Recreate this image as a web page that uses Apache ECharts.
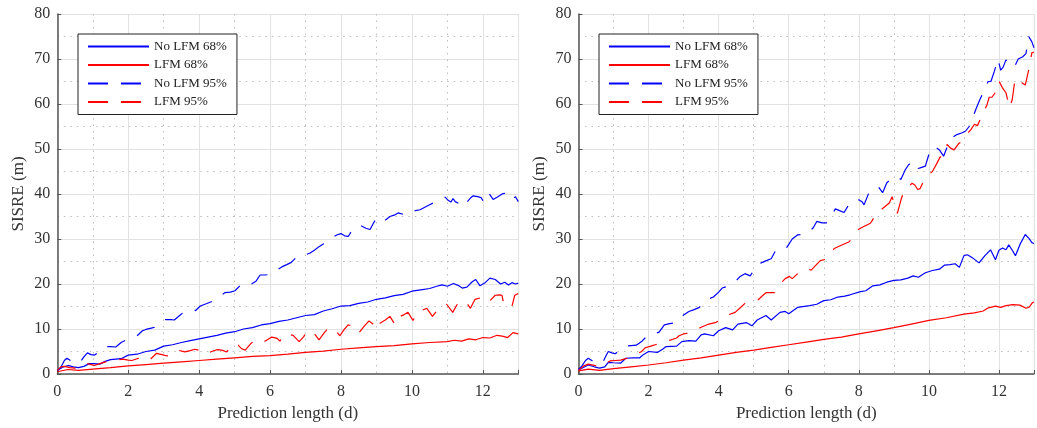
<!DOCTYPE html>
<html>
<head>
<meta charset="utf-8">
<script src="https://cdn.jsdelivr.net/npm/echarts@6/dist/echarts.min.js"></script>
<style>html,body{margin:0;padding:0;background:#fff;}#c{width:1037px;height:428px;}</style>
</head>
<body>
<div id="c"></div>
<script>
// ---- data: [prediction length (d), SISRE (m)] ----
const seriesNames = ['No LFM 68%', 'LFM 68%', 'No LFM 95%', 'LFM 95%'];
const xTicks = [0, 2, 4, 6, 8, 10, 12];
const yTicks = [0, 10, 20, 30, 40, 50, 60, 70, 80];

// Left panel
const leftNoLfm68 = [[0,0.8],[0.15,1.5],[0.3,1.9],[0.45,1.6],[0.6,1.4],[0.75,1.7],[0.9,2.3],[1.05,2.3],[1.2,2.2],[1.35,2.8],[1.5,3.2],[1.65,3.3],[1.8,3.4],[2.0,4.2],[2.25,4.4],[2.5,5.0],[2.75,5.3],[3.0,6.2],[3.25,6.5],[3.5,7.0],[3.75,7.4],[4.0,7.8],[4.25,8.2],[4.5,8.6],[4.75,9.1],[5.0,9.4],[5.25,10.0],[5.5,10.3],[5.75,10.9],[6.0,11.2],[6.25,11.7],[6.5,12.0],[6.75,12.5],[7.0,13.0],[7.25,13.2],[7.5,14.0],[7.75,14.5],[8.0,15.1],[8.25,15.2],[8.5,15.7],[8.75,16.0],[9.0,16.6],[9.25,16.9],[9.5,17.4],[9.75,17.7],[10.0,18.4],[10.25,18.7],[10.5,19.0],[10.7,19.5],[10.85,19.8],[11.0,19.5],[11.17,20.1],[11.3,19.7],[11.42,19.1],[11.55,19.3],[11.7,20.5],[11.8,21.0],[11.92,19.6],[12.05,20.2],[12.2,21.3],[12.35,21.0],[12.5,20.0],[12.62,20.4],[12.72,19.8],[12.82,20.3],[12.92,20.0],[13,20.2]];
const leftLfm68 = [[0,0.5],[0.3,1.0],[0.6,0.8],[1.0,1.1],[1.5,1.4],[2.0,1.8],[2.5,2.1],[3.0,2.4],[3.5,2.7],[4.0,3.0],[4.5,3.3],[5.0,3.6],[5.5,3.9],[6.0,4.1],[6.5,4.4],[7.0,4.8],[7.5,5.1],[8.0,5.5],[8.5,5.8],[9.0,6.1],[9.5,6.3],[10.0,6.7],[10.5,7.0],[11.0,7.2],[11.2,7.5],[11.4,7.3],[11.6,7.8],[11.8,7.6],[12.0,8.1],[12.2,8.0],[12.4,8.6],[12.55,8.4],[12.7,8.1],[12.85,9.2],[13,8.9]];
const leftNoLfm95 = [[0,0.8],[0.1,1.5],[0.2,3.0],[0.27,3.5],[0.35,3.1],[0.45,2.5],[0.55,2.3],[0.65,2.7],[0.75,3.8],[0.85,4.7],[0.95,4.3],[1.05,4.2],[1.15,4.8],[1.25,5.6],[1.35,6.1],[1.5,6.1],[1.65,6.0],[1.8,7.0],[1.95,7.6],[2.1,8.2],[2.25,8.5],[2.4,9.6],[2.5,9.9],[2.65,10.2],[2.8,10.5],[2.9,11.2],[3.05,12.1],[3.2,12.1],[3.3,12.0],[3.45,13.0],[3.6,14.0],[3.75,14.2],[3.9,14.1],[4.03,15.1],[4.2,15.6],[4.36,16.1],[4.5,16.6],[4.6,17.3],[4.73,18.1],[4.88,18.2],[5.01,18.5],[5.15,19.6],[5.3,20.3],[5.45,19.9],[5.6,20.6],[5.72,22.0],[5.85,22.0],[6.0,22.1],[6.1,22.4],[6.19,23.1],[6.33,23.8],[6.47,24.3],[6.6,24.8],[6.75,26.0],[6.85,26.5],[7.0,26.5],[7.13,26.9],[7.25,27.5],[7.38,28.3],[7.5,28.9],[7.62,29.6],[7.74,30.2],[7.88,30.9],[8.0,31.2],[8.1,30.7],[8.21,30.6],[8.3,31.8],[8.4,32.7],[8.55,33.0],[8.7,32.4],[8.82,32.1],[8.92,33.6],[9.01,34.7],[9.1,34.4],[9.2,33.9],[9.38,35.0],[9.5,35.3],[9.61,35.8],[9.75,35.5],[9.85,35.7],[9.95,36.4],[10.1,36.3],[10.23,36.5],[10.35,37.0],[10.5,37.6],[10.65,38.2],[10.8,38.6],[10.94,39.3],[11.02,38.6],[11.1,38.2],[11.16,39.0],[11.22,38.3],[11.32,37.9],[11.44,37.1],[11.55,38.2],[11.65,39.1],[11.73,39.6],[11.85,39.4],[11.95,39.2],[12.01,38.4],[12.15,40.4],[12.29,38.8],[12.4,39.3],[12.57,40.1],[12.7,40.2],[12.83,38.8],[12.92,39.4],[13,38.3]];
const leftLfm95 = [[0,0.8],[0.1,1.6],[0.2,1.7],[0.35,1.4],[0.5,1.3],[0.65,1.6],[0.8,2.4],[0.95,2.1],[1.05,1.9],[1.2,2.3],[1.4,2.8],[1.55,3.0],[1.67,3.1],[1.85,3.3],[2.0,3.1],[2.1,3.0],[2.25,3.4],[2.43,3.7],[2.6,3.1],[2.8,4.6],[2.95,4.3],[3.1,4.0],[3.25,5.0],[3.4,5.3],[3.6,4.9],[3.75,5.2],[3.88,5.5],[4.05,5.2],[4.2,4.4],[4.35,5.0],[4.5,5.4],[4.64,5.3],[4.78,4.9],[4.92,6.6],[5.1,6.4],[5.2,5.6],[5.3,5.3],[5.45,6.7],[5.55,7.4],[5.67,7.4],[5.8,7.0],[5.9,7.5],[6.05,8.2],[6.2,7.9],[6.28,7.3],[6.35,8.5],[6.45,8.9],[6.65,8.6],[6.82,7.2],[6.95,8.3],[7.03,9.4],[7.2,9.5],[7.38,7.6],[7.52,9.1],[7.64,10.2],[7.8,10.1],[7.97,8.5],[8.08,9.8],[8.2,10.9],[8.35,10.6],[8.5,9.1],[8.65,10.6],[8.79,11.8],[8.9,11.1],[9.0,9.9],[9.1,11.3],[9.25,12.0],[9.38,12.8],[9.53,10.9],[9.67,12.8],[9.78,13.2],[9.89,13.7],[10.03,11.9],[10.17,13.9],[10.3,14.2],[10.42,14.6],[10.58,12.8],[10.75,14.6],[10.87,15.0],[10.98,15.5],[11.15,13.7],[11.27,15.4],[11.4,15.8],[11.5,16.3],[11.65,14.6],[11.78,16.6],[11.92,16.9],[12.06,17.4],[12.2,16.3],[12.35,17.5],[12.47,17.6],[12.54,17.5],[12.6,15.2],[12.72,15.1],[12.82,15.0],[12.9,17.5],[13,17.9]];

// Right panel
const rightNoLfm68 = [[0,0.9],[0.15,1.5],[0.28,2.0],[0.45,1.6],[0.6,1.3],[0.75,1.6],[0.85,2.6],[1.0,2.5],[1.2,2.4],[1.35,3.5],[1.55,3.6],[1.75,3.6],[1.85,4.3],[2.0,5.0],[2.25,4.8],[2.4,5.5],[2.5,6.1],[2.8,6.2],[2.95,7.2],[3.15,7.4],[3.35,7.3],[3.5,8.7],[3.6,8.9],[3.85,8.5],[4.0,9.6],[4.2,10.3],[4.4,9.8],[4.55,11.1],[4.8,11.4],[4.95,10.7],[5.1,12.0],[5.35,13.0],[5.5,12.0],[5.75,13.7],[5.9,13.9],[6.0,13.4],[6.25,14.8],[6.6,15.2],[6.8,15.5],[7.0,16.3],[7.2,16.5],[7.4,17.1],[7.6,17.3],[7.75,17.6],[8.05,18.3],[8.2,18.5],[8.4,19.6],[8.6,19.8],[8.8,20.4],[9.0,20.8],[9.2,20.9],[9.4,21.3],[9.55,21.8],[9.7,21.5],[9.9,22.5],[10.1,23.0],[10.3,23.3],[10.45,24.2],[10.6,24.3],[10.75,24.5],[10.87,23.7],[11.0,26.3],[11.1,26.5],[11.25,25.8],[11.43,24.7],[11.6,26.3],[11.76,27.6],[11.9,25.4],[12.0,27.5],[12.1,28.0],[12.2,27.6],[12.28,28.7],[12.38,27.5],[12.47,26.3],[12.6,28.8],[12.75,31.0],[12.85,30.2],[12.94,29.2],[13,29.0]];
const rightLfm68 = [[0,0.7],[0.28,1.1],[0.6,0.8],[1.0,1.2],[1.5,1.6],[2.0,2.0],[2.5,2.5],[3.0,3.1],[3.5,3.6],[4.0,4.2],[4.5,4.8],[5.0,5.3],[5.5,5.9],[6.0,6.5],[6.5,7.1],[7.0,7.7],[7.5,8.2],[8.0,8.9],[8.5,9.6],[9.0,10.3],[9.5,11.1],[10.0,11.9],[10.5,12.5],[11.0,13.3],[11.3,13.6],[11.55,14.0],[11.7,14.7],[11.9,15.1],[12.05,14.8],[12.2,15.2],[12.4,15.4],[12.6,15.3],[12.77,14.6],[12.87,14.9],[12.96,15.9],[13,16.0]];
const rightNoLfm95 = [[0,1.0],[0.1,1.8],[0.2,3.0],[0.28,3.5],[0.38,3.0],[0.5,2.4],[0.6,2.3],[0.7,2.7],[0.78,4.0],[0.85,5.0],[0.95,4.7],[1.05,4.5],[1.15,5.2],[1.25,5.8],[1.35,6.2],[1.5,6.3],[1.65,6.4],[1.8,7.2],[1.9,8.0],[2.0,8.7],[2.15,8.9],[2.3,9.3],[2.45,10.9],[2.6,11.2],[2.8,11.4],[2.9,12.3],[3.0,13.1],[3.15,13.9],[3.3,14.3],[3.45,14.8],[3.6,16.2],[3.75,16.8],[3.85,17.1],[4.0,18.2],[4.1,19.1],[4.3,19.6],[4.5,20.7],[4.6,21.6],[4.75,22.3],[4.9,21.8],[5.0,23.0],[5.1,24.3],[5.25,24.8],[5.36,25.2],[5.5,25.6],[5.65,27.8],[5.8,27.8],[5.95,28.2],[6.1,30.0],[6.25,30.9],[6.4,31.0],[6.55,31.3],[6.7,32.5],[6.8,33.9],[6.95,33.6],[7.08,33.6],[7.2,34.8],[7.33,36.7],[7.45,36.3],[7.58,35.9],[7.68,37.2],[7.78,38.4],[7.9,38.6],[8.0,38.7],[8.1,38.2],[8.15,37.6],[8.3,40.5],[8.45,41.2],[8.56,41.6],[8.68,40.3],[8.8,42.5],[8.95,43.5],[9.1,43.9],[9.2,43.2],[9.32,45.3],[9.42,46.5],[9.54,47.2],[9.65,45.6],[9.75,45.8],[9.9,46.2],[10.0,48.8],[10.15,50.6],[10.3,49.8],[10.42,48.4],[10.55,51.0],[10.65,52.5],[10.8,53.2],[10.95,53.6],[11.05,54.0],[11.15,55.0],[11.26,57.2],[11.35,59.0],[11.45,60.9],[11.56,62.7],[11.64,64.2],[11.69,65.0],[11.77,65.0],[11.87,67.3],[11.97,70.0],[12.05,67.5],[12.12,68.2],[12.2,69.8],[12.3,68.6],[12.44,68.2],[12.55,70.0],[12.68,70.5],[12.77,71.2],[12.85,75.0],[12.94,73.8],[13,72.5]];
const rightLfm95 = [[0,0.8],[0.15,1.8],[0.28,2.2],[0.45,1.9],[0.6,1.6],[0.75,2.2],[0.9,2.9],[1.05,3.0],[1.2,3.1],[1.35,3.4],[1.5,3.9],[1.6,4.2],[1.8,5.0],[1.9,5.8],[2.02,6.1],[2.15,6.4],[2.3,6.8],[2.45,7.2],[2.65,7.6],[2.8,8.0],[2.87,8.5],[3.0,8.9],[3.15,9.1],[3.25,9.4],[3.5,10.4],[3.72,11.1],[3.9,11.4],[4.05,12.0],[4.25,13.1],[4.47,13.7],[4.6,14.6],[4.75,15.7],[4.95,16.1],[5.13,16.5],[5.25,17.4],[5.36,18.1],[5.6,18.1],[5.79,20.3],[5.9,21.2],[6.02,21.7],[6.1,21.2],[6.27,22.4],[6.4,23.2],[6.55,23.3],[6.64,23.1],[6.9,25.2],[7.07,25.5],[7.2,26.8],[7.3,27.9],[7.5,28.6],[7.73,29.4],[7.85,30.8],[7.96,32.0],[8.1,32.6],[8.33,33.5],[8.4,34.3],[8.47,35.8],[8.65,36.6],[8.87,38.0],[8.95,39.4],[9.1,35.7],[9.2,38.6],[9.28,40.5],[9.4,41.5],[9.52,42.4],[9.6,42.0],[9.68,41.0],[9.75,41.2],[9.9,43.7],[10.1,45.0],[10.22,46.7],[10.32,48.2],[10.42,48.5],[10.52,51.0],[10.62,50.2],[10.72,49.8],[10.85,51.2],[10.96,51.7],[11.05,53.0],[11.2,54.3],[11.3,55.5],[11.39,55.2],[11.46,56.5],[11.55,58.2],[11.65,59.6],[11.72,61.5],[11.8,61.5],[11.92,62.8],[12.0,65.1],[12.1,63.6],[12.2,62.5],[12.3,59.2],[12.38,61.0],[12.45,65.1],[12.55,64.0],[12.65,64.7],[12.75,64.2],[12.85,67.6],[12.94,71.4],[13,71.5]];

// ---- styles ----
const BLUE = '#0000ff', RED = '#ff0000';
const DASH = [20, 13];
const serif = 'Liberation Serif';
const axisColor = '#555';

function makeAxes(idx) {
  const x = {
    type: 'value', gridIndex: idx, min: 0, max: 13, interval: 2,
    name: 'Prediction length (d)', nameLocation: 'middle', nameGap: 29,
    nameTextStyle: { fontFamily: serif, fontSize: 17, color: '#333' },
    axisLine: { show: true, lineStyle: { color: axisColor, width: 1.5 } },
    axisTick: { show: true, inside: true, length: 4, lineStyle: { color: axisColor, width: 1 } },
    axisLabel: { fontFamily: serif, fontSize: 16, color: '#333', margin: 10,
      formatter: v => (xTicks.indexOf(v) >= 0 ? String(v) : '') },
    splitLine: { show: true, lineStyle: { color: '#e2e2e2', width: 1 } },
    minorTick: { show: false, splitNumber: 2 },
    minorSplitLine: { show: true, lineStyle: { color: '#bdbdbd', width: 1, type: [1.5, 5] } }
  };
  const y = {
    type: 'value', gridIndex: idx, min: 0, max: 80, interval: 10,
    name: 'SISRE (m)', nameLocation: 'middle', nameGap: 30, nameRotate: 90,
    nameTextStyle: { fontFamily: serif, fontSize: 17, color: '#333' },
    axisLine: { show: true, onZero: false, lineStyle: { color: axisColor, width: 1.5 } },
    axisTick: { show: true, inside: true, length: 4, lineStyle: { color: axisColor, width: 1 } },
    axisLabel: { fontFamily: serif, fontSize: 16, color: '#333', margin: 7,
      formatter: v => (yTicks.indexOf(v) >= 0 ? String(v) : '') },
    splitLine: { show: true, lineStyle: { color: '#e2e2e2', width: 1 } },
    minorTick: { show: false, splitNumber: 2 },
    minorSplitLine: { show: true, lineStyle: { color: '#bdbdbd', width: 1, type: [1.5, 5] } }
  };
  return { x, y };
}

function mkSeries(name, data, color, dashed, idx) {
  return {
    name, type: 'line', data, xAxisIndex: idx, yAxisIndex: idx,
    showSymbol: false, symbol: 'none', smooth: false, clip: true,
    lineStyle: { color, width: 1.2, type: dashed ? DASH : 'solid' },
    itemStyle: { color },
    emphasis: { disabled: true }
  };
}

function mkLegend(left) {
  return {
    orient: 'vertical', left, top: 34,
    data: seriesNames,
    itemWidth: 61, itemHeight: 10, itemGap: 5.5,
    padding: [6, 10, 6, 9],
    backgroundColor: '#fff', borderColor: '#222', borderWidth: 1,
    textStyle: { fontFamily: serif, fontSize: 13, color: '#222' },
    itemStyle: { opacity: 0, borderWidth: 0 },
    selectedMode: false
  };
}

const a0 = makeAxes(0), a1 = makeAxes(1);
const option = {
  animation: false,
  backgroundColor: '#fff',
  grid: [
    { left: 57.3, top: 14, width: 461, height: 360 },
    { left: 578.5, top: 14, width: 459.5, height: 360 }
  ],
  xAxis: [a0.x, a1.x],
  yAxis: [a0.y, a1.y],
  legend: [mkLegend(78), mkLegend(599)],
  series: [
    mkSeries(seriesNames[0], leftNoLfm68, BLUE, false, 0),
    mkSeries(seriesNames[1], leftLfm68, RED, false, 0),
    mkSeries(seriesNames[2], leftNoLfm95, BLUE, true, 0),
    mkSeries(seriesNames[3], leftLfm95, RED, true, 0),
    mkSeries(seriesNames[0], rightNoLfm68, BLUE, false, 1),
    mkSeries(seriesNames[1], rightLfm68, RED, false, 1),
    mkSeries(seriesNames[2], rightNoLfm95, BLUE, true, 1),
    mkSeries(seriesNames[3], rightLfm95, RED, true, 1)
  ]
};
const chart = echarts.init(document.getElementById('c'), null, { renderer: 'canvas' });
chart.setOption(option);
</script>
</body>
</html>
